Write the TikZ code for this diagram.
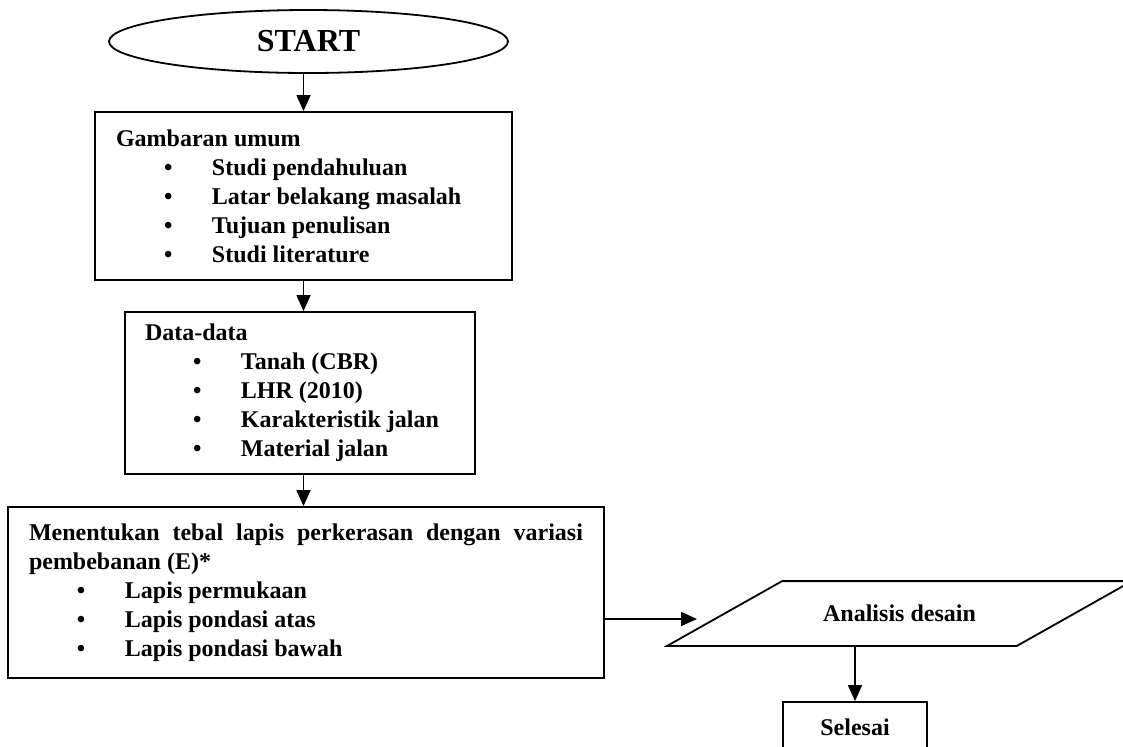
\documentclass[tikz,border=0pt]{standalone}
\usepackage{fontspec}
\setmainfont{Liberation Serif}
\usetikzlibrary{shapes.geometric,arrows.meta}
\setlength{\parindent}{0pt}
\hyphenpenalty=10000
\newcommand{\itm}[1]{\par\noindent\hspace*{24pt}\makebox[24pt][l]{\textbullet}#1}

\begin{document}
\begin{tikzpicture}[x=0.5pt,y=-0.5pt,line width=0.9pt]
    \tikzstyle{flowarrow}=[-{Triangle[length=8pt,width=7pt]}]
    \tikzstyle{every node}=[font=\bfseries\fontsize{12}{14.5}\selectfont]
    \tikzstyle{terminal}=[draw,ellipse,inner sep=0pt,minimum width=199.5pt,minimum height=31.5pt,
        font=\bfseries\fontsize{16}{19}\selectfont]
    \tikzstyle{process}=[draw,rectangle,inner ysep=0pt,align=justify]
    \tikzstyle{io}=[rectangle,minimum width=174pt,minimum height=31.5pt,inner sep=0pt]
    \tikzstyle{stop}=[draw,rectangle,minimum width=72pt,minimum height=25pt,inner sep=0pt]

    \useasboundingbox (0,0) rectangle (1123,746);

    % Draw the start node
    \node[terminal] (start) at (308.5,41.5) {START};

    % Draw the process boxes
    \node[process,text width=187.5pt,inner xsep=10.5pt,minimum height=84pt] (umum) at (303.5,196)
        {\noindent Gambaran umum\itm{Studi pendahuluan}\itm{Latar belakang masalah}\itm{Tujuan penulisan}\itm{Studi literature}};
    \node[process,text width=155pt,inner xsep=10pt,minimum height=81pt] (data) at (300,393)
        {\noindent Data-data\itm{Tanah (CBR)}\itm{LHR (2010)}\itm{Karakteristik jalan}\itm{Material jalan}};
    \node[process,text width=277pt,inner xsep=10.5pt,minimum height=85.5pt] (lapis) at (306,592.5)
        {\noindent Menentukan tebal lapis perkerasan dengan variasi\linebreak pembebanan (E)*\itm{Lapis permukaan}\itm{Lapis pondasi atas}\itm{Lapis pondasi bawah}};

    % Draw the analysis (slanted box) and end nodes
    \node[io] (analisis) at (899.5,613.5) {Analisis desain};
    \draw ([xshift=-28.75pt]analisis.south west) -- ([xshift=28.75pt]analisis.north west)
        -- ([xshift=28.75pt]analisis.north east) -- ([xshift=-28.75pt]analisis.south east) -- cycle;
    \node[stop] (selesai) at (855,727) {Selesai};
    \coordinate (a4) at (697,619);

    % Connect the boxes down the left column
    \foreach \src/\dst in {start/umum,umum/data,data/lapis}
        \draw[flowarrow] (\src.south -| umum.north) -- (\dst.north -| umum.north);

    % Connect to the analysis and the end
    \draw[flowarrow] (lapis.east |- a4) -- (a4);
    \draw[flowarrow] (analisis.south -| selesai.north) -- (selesai.north);
\end{tikzpicture}
\end{document}
